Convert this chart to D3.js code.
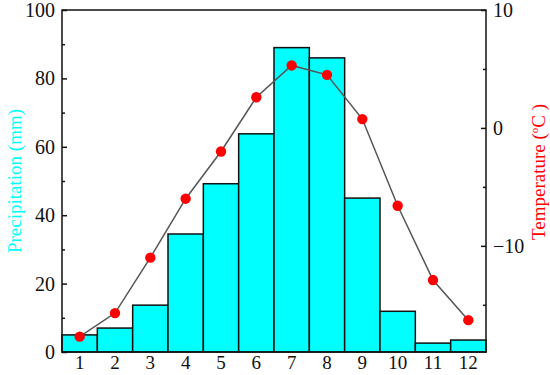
<!DOCTYPE html>
<html><head><meta charset="utf-8">
<script src="https://cdn.jsdelivr.net/npm/d3@7"></script>
<style>body{margin:0;background:#fff}svg{display:block}</style>
</head><body>
<script>
const months = [1,2,3,4,5,6,7,8,9,10,11,12];
const precipitation = [5.0, 7.0, 13.7, 34.5, 49.2, 63.8, 89.0, 86.0, 45.0, 11.9, 2.6, 3.5];
const temperature = [-17.7, -15.7, -11.0, -6.0, -2.0, 2.6, 5.3, 4.5, 0.75, -6.6, -12.9, -16.3];
const precipTicks = [0,20,40,60,80,100];
const tempTicks = [-10,0,10];

const W = 550, H = 375;
const m = {l:62, r:64, t:10, b:23};
const svg = d3.select("body").append("svg").attr("width",W).attr("height",H);
const x = d3.scaleBand().domain(months).range([m.l, W-m.r]).padding(0);
const yP = d3.scaleLinear().domain([0,100]).range([H-m.b, m.t]);
const yT = d3.scaleLinear().domain([-19,10]).range([H-m.b, m.t]);
const font = "'Liberation Serif','Times New Roman',serif";

// bars
svg.append("g").selectAll("rect").data(precipitation).join("rect")
  .attr("x",(d,i)=>x(months[i])).attr("width",x.bandwidth())
  .attr("y",d=>yP(d)).attr("height",d=>yP(0)-yP(d))
  .attr("fill","#00ffff").attr("stroke","#111").attr("stroke-width",1.5);

// line
const line = d3.line().x((d,i)=>x(months[i])+x.bandwidth()/2).y(d=>yT(d));
svg.append("path").datum(temperature).attr("d",line)
  .attr("fill","none").attr("stroke","#555").attr("stroke-width",1.5);
svg.append("g").selectAll("circle").data(temperature).join("circle")
  .attr("cx",(d,i)=>x(months[i])+x.bandwidth()/2).attr("cy",d=>yT(d))
  .attr("r",5.2).attr("fill","#ff0000");

// frame
svg.append("rect").attr("x",m.l).attr("y",m.t).attr("width",W-m.l-m.r).attr("height",H-m.t-m.b)
  .attr("fill","none").attr("stroke","#111").attr("stroke-width",1.5);

// left axis
const gl = svg.append("g").attr("transform",`translate(${m.l},0)`)
  .call(d3.axisLeft(yP).tickValues(precipTicks).tickSize(-5).tickPadding(7));
const glm = svg.append("g").attr("transform",`translate(${m.l},0)`)
  .call(d3.axisLeft(yP).tickValues([10,30,50,70,90]).tickSize(-3).tickFormat(""));
// right axis
const gr = svg.append("g").attr("transform",`translate(${W-m.r},0)`)
  .call(d3.axisRight(yT).tickValues(tempTicks).tickSize(-5).tickPadding(7)
    .tickFormat(d=>d<0?"\u2212"+Math.abs(d):d));
const grm = svg.append("g").attr("transform",`translate(${W-m.r},0)`)
  .call(d3.axisRight(yT).tickValues([-15,-5,5]).tickSize(-3).tickFormat(""));
// bottom axis
const gb = svg.append("g").attr("transform",`translate(0,${H-m.b})`)
  .call(d3.axisBottom(x).tickSize(0).tickPadding(4));

[gl,glm,gr,grm,gb].forEach(g=>{
  g.select(".domain").remove();
  g.selectAll("line").attr("stroke","#111").attr("stroke-width",1.5);
  g.selectAll("text").attr("font-family",font).attr("font-size",20).attr("fill","#111");
});
gb.selectAll("text").attr("font-size",19);

// titles
svg.append("text").attr("transform",`translate(21,181) rotate(-90)`)
  .attr("text-anchor","middle").attr("font-family",font).attr("font-size",19)
  .attr("fill","#00ffff").text("Precipitation (mm)");
const tt = svg.append("text").attr("transform",`translate(545,172) rotate(-90)`)
  .attr("text-anchor","middle").attr("font-family",font).attr("font-size",19)
  .attr("fill","#ff0000");
tt.append("tspan").text("Temperature (");
tt.append("tspan").attr("font-size",11).attr("dy",-7).text("o");
tt.append("tspan").attr("dy",7).text("C )");
</script>
</body></html>
